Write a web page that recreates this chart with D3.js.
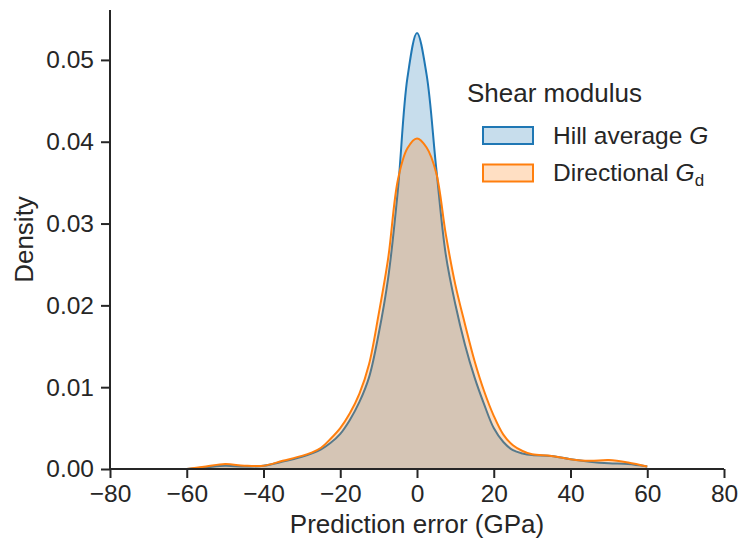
<!DOCTYPE html>
<html>
<head>
<meta charset="utf-8">
<script src="https://cdn.jsdelivr.net/npm/d3@7"></script>
<style>
	body { margin: 0; background: #fff; }
	svg text { font-family: "Liberation Sans", Arial, sans-serif; fill: #262626; }
</style>
</head>
<body>
<svg id="chart"></svg>
<script>
// Prediction error grid (GPa) and KDE densities
const errorGrid = [ -60, -55, -50, -45, -40, -35, -30, -27.5, -25, -22.5, -20, -17.5, -15, -12.5, -10, -7.5, -5, -2.5, 0, 2.5, 5, 7.5, 10, 12.5, 15, 17.5, 20, 22.5, 25, 27.5, 30, 35, 40, 45, 50, 55, 60 ];
const hillDensity = [ 0.0000, 0.0002, 0.0004, 0.0003, 0.0004, 0.0009, 0.0015, 0.0019, 0.0024, 0.0032, 0.0043, 0.0060, 0.0082, 0.0112, 0.0165, 0.0234, 0.0340, 0.0478, 0.0533, 0.0482, 0.0368, 0.0262, 0.0201, 0.0152, 0.0112, 0.0079, 0.0050, 0.0033, 0.0023, 0.0019, 0.0017, 0.0016, 0.0012, 0.0009, 0.0007, 0.0006, 0.0003 ];
const directionalDensity = [ 0.0000, 0.0003, 0.0006, 0.0004, 0.0004, 0.0010, 0.0016, 0.0020, 0.0026, 0.0037, 0.0050, 0.0068, 0.0092, 0.0128, 0.0189, 0.0258, 0.0353, 0.0392, 0.0404, 0.0393, 0.0362, 0.0287, 0.0225, 0.0177, 0.0132, 0.0095, 0.0065, 0.0042, 0.0029, 0.0022, 0.0018, 0.0016, 0.0012, 0.0010, 0.0011, 0.0008, 0.0003 ];

const xTicks = [ -80, -60, -40, -20, 0, 20, 40, 60, 80 ];
const yTicks = [ 0, 0.01, 0.02, 0.03, 0.04, 0.05 ];

const seriesNames = [ 'Hill average', 'Directional' ];
const seriesColors = [ '#1f77b4', '#ff7f0e' ];

const width = 740;
const height = 541;
const margin = { top: 10, right: 16, bottom: 72, left: 110 };

const svg = d3.select( '#chart' )
	.attr( 'width', width )
	.attr( 'height', height );

const x = d3.scaleLinear()
	.domain( [ -80, 80 ] )
	.range( [ margin.left, width - margin.right ] );

const y = d3.scaleLinear()
	.domain( [ 0, 0.0561 ] )
	.range( [ height - margin.bottom, margin.top ] );

const series = [ hillDensity, directionalDensity ].map( ( values, i ) => ( {
	name: seriesNames[ i ],
	color: seriesColors[ i ],
	points: errorGrid.map( ( e, j ) => [ e, values[ j ] ] ),
} ) );

const area = d3.area()
	.x( ( d ) => x( d[ 0 ] ) )
	.y0( y( 0 ) )
	.y1( ( d ) => y( d[ 1 ] ) )
	.curve( d3.curveCatmullRom.alpha( 0.5 ) );

const line = area.lineY1();

// each KDE drawn as fill + outline, in order, like seaborn
series.forEach( ( s ) => {
	svg.append( 'path' )
		.datum( s.points )
		.attr( 'd', area )
		.attr( 'fill', s.color )
		.attr( 'fill-opacity', 0.25 );
	svg.append( 'path' )
		.datum( s.points )
		.attr( 'd', line )
		.attr( 'fill', 'none' )
		.attr( 'stroke', s.color )
		.attr( 'stroke-width', 2 );
} );

// axes
const xAxis = svg.append( 'g' )
	.attr( 'transform', `translate(0,${ y( 0 ) })` )
	.call( d3.axisBottom( x ).tickValues( xTicks ).tickSize( 9 ).tickPadding( 7 ) );

const yAxis = svg.append( 'g' )
	.attr( 'transform', `translate(${ x( -80 ) },0)` )
	.call( d3.axisLeft( y ).tickValues( yTicks ).tickFormat( d3.format( '.2f' ) ).tickSize( 9 ).tickPadding( 7 ) );

[ xAxis, yAxis ].forEach( ( ax ) => {
	ax.select( '.domain' ).attr( 'stroke', '#262626' ).attr( 'stroke-width', 2 );
	ax.selectAll( '.tick line' ).attr( 'stroke', '#262626' ).attr( 'stroke-width', 2 );
	ax.selectAll( '.tick text' ).attr( 'font-size', 24.5 ).attr( 'fill', '#262626' )
		.style( 'font-family', '"Liberation Sans", Arial, sans-serif' );
} );
xAxis.select( '.domain' ).attr( 'd', `M${ x( -80 ) },0H${ x( 80 ) }` );
yAxis.select( '.domain' ).attr( 'd', `M0,${ y( 0 ) }V${ margin.top }` );

svg.append( 'text' )
	.attr( 'x', ( x( -80 ) + x( 80 ) ) / 2 )
	.attr( 'y', 533 )
	.attr( 'text-anchor', 'middle' )
	.attr( 'font-size', 26 )
	.text( 'Prediction error (GPa)' );

svg.append( 'text' )
	.attr( 'transform', `translate(33,${ ( y( 0 ) + margin.top ) / 2 }) rotate(-90)` )
	.attr( 'text-anchor', 'middle' )
	.attr( 'font-size', 26 )
	.text( 'Density' );

// legend
const legend = svg.append( 'g' ).attr( 'transform', 'translate(467,0)' );

legend.append( 'text' )
	.attr( 'x', 0 )
	.attr( 'y', 102 )
	.attr( 'font-size', 26 )
	.text( 'Shear modulus' );

const rows = legend.selectAll( 'g.row' )
	.data( series )
	.join( 'g' )
	.attr( 'class', 'row' )
	.attr( 'transform', ( d, i ) => `translate(0,${ 127 + i * 37.5 })` );

rows.append( 'rect' )
	.attr( 'x', 16 )
	.attr( 'y', 0 )
	.attr( 'width', 50 )
	.attr( 'height', 17 )
	.attr( 'fill', ( d ) => d.color )
	.attr( 'fill-opacity', 0.25 )
	.attr( 'stroke', ( d ) => d.color )
	.attr( 'stroke-width', 2 );

const labels = rows.append( 'text' )
	.attr( 'x', 86 )
	.attr( 'y', 16.5 )
	.attr( 'font-size', 24.5 );

labels.append( 'tspan' ).text( ( d ) => d.name + ' ' );
labels.append( 'tspan' ).attr( 'font-style', 'italic' ).text( 'G' );
labels.filter( ( d, i ) => i === 1 )
	.append( 'tspan' )
	.attr( 'font-size', 17 )
	.attr( 'dy', 5 )
	.text( 'd' );
</script>
</body>
</html>
